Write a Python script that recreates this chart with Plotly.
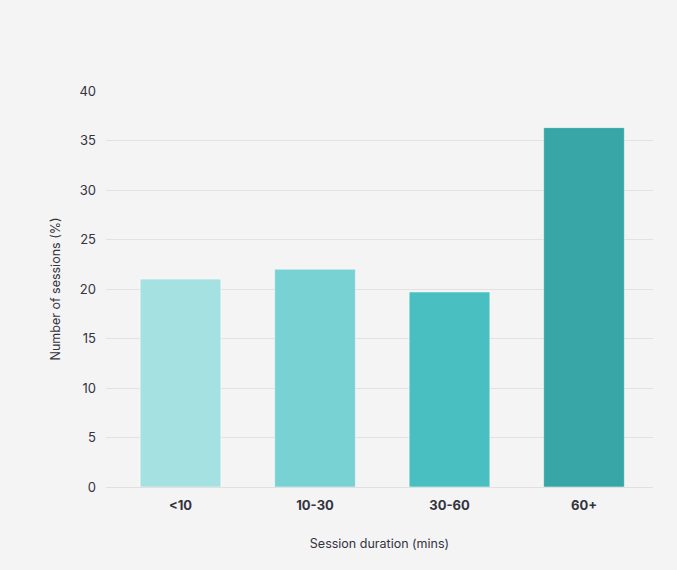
import plotly.graph_objects as go

categories = ["<10", "10-30", "30-60", "60+"]
values = [21.0, 22.0, 19.7, 36.3]
colors = ["#a6e1e1", "#78d1d2", "#4abfc1", "#38a5a6"]
y_ticks = [0, 5, 10, 15, 20, 25, 30, 35, 40]

fig = go.Figure(go.Bar(
    x=list(range(len(categories))), y=values,
    marker=dict(color=colors, line=dict(color="rgba(255,255,255,0.5)", width=1)),
    width=0.6,
))

fig.update_layout(
    width=677, height=570,
    paper_bgcolor="#f4f4f4", plot_bgcolor="#f4f4f4",
    margin=dict(l=106, r=24, t=91, b=83),
    font=dict(family="Inter", color="#333340", size=13),
    showlegend=False,
    xaxis=dict(
        tickmode="array", tickvals=list(range(len(categories))),
        ticktext=["<b>%s</b>" % c for c in categories],
        range=[-0.554, 3.513], showgrid=False, zeroline=False,
        showline=True, linecolor="#e0e0e0", linewidth=1,
        ticks="", ticklabelstandoff=6,
        title=dict(text="Session duration (mins)", font=dict(size=12.5), standoff=27),
    ),
    yaxis=dict(
        range=[0, 40], tickvals=y_ticks, showgrid=True, gridcolor="#e2e2e2",
        gridwidth=1, zeroline=False, ticks="", ticklabelstandoff=9,
        title=dict(text="Number of sessions (%)", font=dict(size=12.5), standoff=16),
    ),
)

fig.write_html("out.html")
